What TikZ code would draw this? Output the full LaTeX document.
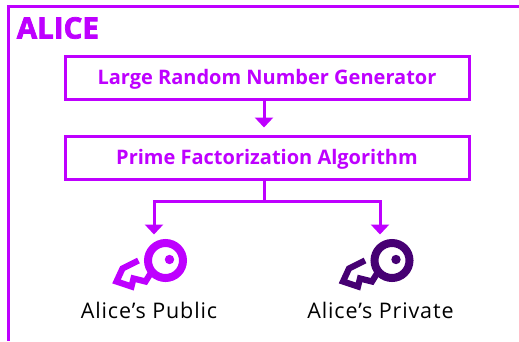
\documentclass[tikz,border=0pt]{standalone}
\usepackage{fontspec}
\setmainfont{Open Sans}
\usetikzlibrary{arrows.meta}
\usetikzlibrary{positioning}
\definecolor{keyPurple}{HTML}{BE00FF}
\definecolor{keyDark}{HTML}{460073}
\newfontfamily\titleFont[FakeBold=2.5]{Open Sans Bold}
\newfontfamily\labelFont[LetterSpace=4]{Open Sans}
\tikzset{
    stepBox/.style={draw=keyPurple,line width=3pt,minimum width=404pt,minimum height=43pt,
      text height=17pt,text depth=4pt,
      text=keyPurple,font=\fontsize{20}{24}\selectfont\bfseries},
    keyLabel/.style={font=\labelFont\fontsize{21.5}{24}\selectfont,text=black},
    link/.style={-{Triangle[width=18pt,length=10pt]},draw=keyPurple,line width=3pt},
  }
\newcommand{\drawKey}[3]{%
  \draw[#3,line width=8pt] (#1,#2) circle (17.5pt);
  \fill[#3] (#1+4,#2-1) circle (4.7pt);
  \draw[#3,line width=6.2pt,line join=miter,miter limit=8]
    (#1-27,#2) -- (#1-43,#2+8) -- (#1-49,#2+21) -- (#1-34,#2+26) -- (#1-32,#2+18)
    -- (#1-20,#2+21) -- (#1-15,#2+13);
}

\begin{document}
\begin{tikzpicture}[x=1pt,y=-1pt,node distance=34pt,semithick]
  \useasboundingbox (0,0) rectangle (519,341);
  % outer frame runs off the page
  \coordinate (FrameTop) at (519,6.5);
  \coordinate (FrameCorner) at (8.5,6.5);
  \coordinate (FrameEnd) at (8.5,341);
  \draw[draw=keyPurple,line width=3pt] (FrameTop) -- (FrameCorner) -- (FrameEnd);
  \node[text=keyPurple,font=\titleFont\fontsize{29.5}{32}\selectfont,anchor=west,inner sep=0pt] (Title) at (16.5,28) {ALICE};

  \node[stepBox] (Generator) at (267,77.5) {Large Random Number Generator};
  \node[stepBox] (Factor) [below=34pt of Generator] {Prime Factorization Algorithm};

  \coordinate (Split) at (264,201);
  \coordinate (PublicTip) at (154,234.5);
  \coordinate (PrivateTip) at (380,234.5);
  \coordinate (Stem) at (264,156);

  \draw[link,shorten >=7pt] (Stem |- Generator.south) -- (Stem |- Factor.north);
  \draw[draw=keyPurple,line width=3pt] (Stem |- Factor.south) -- (Split);
  \draw[link] (Split) -| (PublicTip);
  \draw[link] (Split) -| (PrivateTip);

  \drawKey{165.5}{260.5}{keyPurple}
  \drawKey{392}{260.5}{keyDark}

  \node[keyLabel] (PublicLabel) at (149,310) {Alice’s Public};
  \node[keyLabel] (PrivateLabel) at (380.5,310) {Alice’s Private};
\end{tikzpicture}
\end{document}
